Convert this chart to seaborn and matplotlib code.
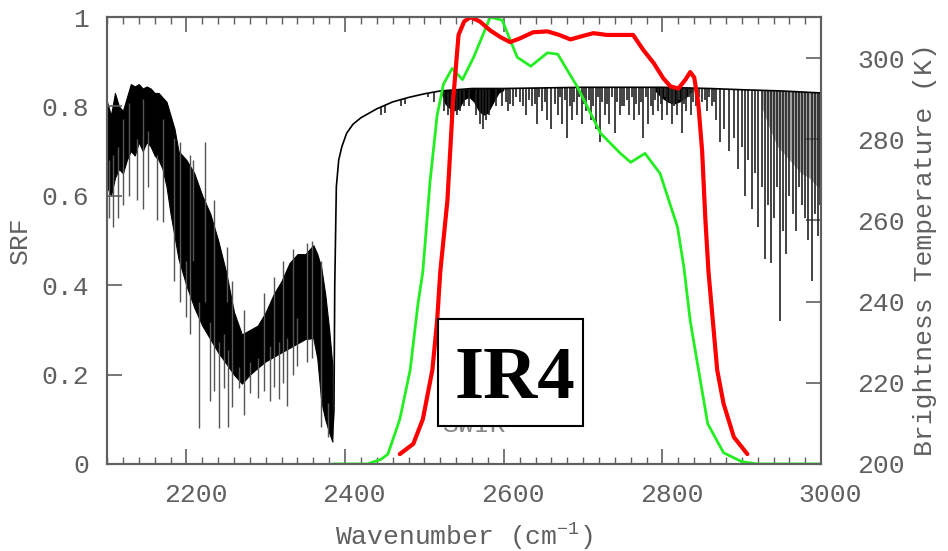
import numpy as np
import pandas as pd
import matplotlib
matplotlib.use('Agg')
import matplotlib.pyplot as plt
import matplotlib.transforms as mtransforms
from matplotlib.patches import Rectangle
from matplotlib.ticker import MultipleLocator
import seaborn as sns

# black spectrum (brightness temperature, K) - dense absorption band 2100-2384
band_wn = [2100, 2105, 2110, 2115, 2120, 2125, 2130, 2135, 2140, 2145, 2150, 2155, 2160, 2165,
           2170, 2175, 2180, 2185, 2190, 2195, 2200, 2210, 2220, 2230, 2240, 2250, 2260, 2270,
           2280, 2290, 2300, 2310, 2320, 2330, 2340, 2350, 2360, 2365, 2370, 2375, 2380, 2384]
band_top = [289.2, 285.9, 291.4, 288.1, 287.0, 290.3, 293.6, 293.0, 293.6, 292.5, 293.0, 292.5, 291.4, 291.4,
            290.3, 289.2, 285.9, 282.6, 277.1, 276.0, 274.9, 271.6, 266.1, 261.7, 255.1, 247.3, 237.4, 231.9,
            233.0, 234.1, 237.4, 241.8, 245.1, 249.5, 251.7, 251.7, 253.9, 251.7, 248.4, 241.8, 233.0, 224.2]
band_bot = [268.3, 266.1, 270.5, 272.7, 271.6, 274.9, 277.1, 276.0, 279.3, 277.1, 279.3, 278.2, 276.0, 274.9,
            272.7, 268.3, 261.7, 256.2, 250.6, 247.3, 244.0, 238.5, 234.1, 230.8, 227.5, 224.8, 222.0, 219.8,
            222.0, 223.7, 225.3, 226.4, 227.5, 228.6, 229.7, 230.8, 231.0, 226.0, 215.4, 211.0, 207.7, 205.5]

# single spikes in the band (wavenumber, upper end, lower end)
spike_wn = [2102, 2108, 2114, 2120, 2128, 2138, 2145, 2152, 2163, 2170, 2185, 2192, 2200, 2205, 2208,
            2216, 2224, 2230, 2235, 2241, 2247, 2251, 2253, 2258, 2266, 2272, 2280, 2290, 2298, 2305,
            2310, 2317, 2322, 2327, 2335, 2340, 2352, 2358, 2370, 2378]
spike_hi = [275.0, 276.0, 278.0, 285.0, 289.0, 280.0, 290.0, 282.0, 276.0, 285.0, 280.4, 279.3, 250.0, 276.0,
            274.9, 240.0, 279.3, 235.0, 265.0, 230.0, 232.0, 253.4, 228.0, 245.0, 224.0, 238.0, 225.0, 226.0,
            242.0, 229.0, 246.0, 230.0, 250.0, 231.0, 253.0, 236.0, 254.5, 255.0, 250.0, 215.0]
spike_lo = [260.6, 258.4, 260.6, 263.9, 266.1, 265.0, 262.8, 268.3, 260.0, 259.5, 245.1, 240.0, 236.3, 232.0,
            250.0, 208.8, 240.0, 215.4, 218.0, 208.8, 218.7, 240.0, 209.1, 214.0, 218.7, 212.0, 217.6, 216.3,
            218.0, 215.4, 219.0, 216.1, 220.0, 214.3, 222.0, 224.2, 225.0, 226.0, 209.0, 206.6]

# continuum from the window edge to 3000
cont_wn = [2384, 2386, 2387, 2389, 2392, 2396, 2402, 2410, 2420, 2440, 2460, 2480, 2500, 2520,
           2560, 2600, 2700, 2800, 2860, 2900, 2950, 3000]
cont_bt = [206.6, 213.2, 244.0, 268.3, 274.9, 278.2, 281.5, 283.7, 285.3, 287.5, 289.2, 290.3, 291.2, 291.9,
           292.5, 292.5, 292.8, 292.8, 292.5, 292.2, 291.9, 291.4]

# absorption lines below the continuum
dip_wn = [2445, 2450, 2470, 2475, 2505, 2512, 2525, 2530, 2533, 2537, 2541, 2545, 2550, 2556, 2565, 2570,
          2574, 2578, 2582, 2590, 2598, 2605, 2612, 2620, 2628, 2635, 2642, 2648, 2655, 2660, 2668,
          2674, 2680, 2686, 2692, 2698, 2704, 2710, 2716, 2721, 2727, 2733, 2740, 2746, 2752, 2758,
          2764, 2770, 2776, 2782, 2788, 2795, 2800, 2806, 2812, 2818, 2824, 2830, 2836, 2842, 2850,
          2856, 2862, 2868, 2873, 2878, 2884, 2890, 2895, 2900, 2904, 2908, 2913, 2917, 2921, 2925,
          2929, 2933, 2937, 2941, 2944, 2948, 2952, 2956, 2960, 2964, 2968, 2972, 2976, 2980, 2984,
          2988, 2992, 2996, 2999]
dip_bt = [285.9, 286.4, 288.1, 288.6, 290.3, 289.2, 287.0, 285.9, 284.8, 287.0, 285.9, 287.0, 288.1, 288.1,
          285.9, 283.7, 282.6, 284.8, 285.9, 288.1, 288.1, 287.0, 288.1, 289.2, 285.9, 288.1, 283.7, 287.0,
          284.8, 282.6, 285.9, 283.7, 280.4, 284.8, 285.9, 283.7, 287.0, 284.8, 282.6, 279.3, 285.9, 283.7,
          281.5, 285.9, 288.1, 285.9, 284.8, 285.9, 280.4, 283.7, 285.9, 287.0, 284.8, 285.9, 283.7, 285.9,
          281.5, 287.0, 285.9, 288.1, 289.2, 287.0, 288.1, 284.8, 279.3, 282.6, 277.1, 280.4, 272.7, 278.2,
          266.1, 274.9, 262.8, 271.6, 258.4, 268.3, 250.6, 263.9, 249.5, 260.6, 268.3, 235.2, 257.3, 251.7,
          266.1, 261.7, 257.3, 268.3, 263.9, 260.6, 255.1, 245.1, 261.7, 256.2, 263.9]

# shallow fine lines between the main ones
fine_wn = [2603, 2608, 2616, 2624, 2632, 2639, 2645, 2652, 2664, 2671, 2677, 2683, 2689, 2695,
           2701, 2707, 2713, 2719, 2724, 2730, 2737, 2743, 2749, 2755, 2761, 2767, 2773, 2779,
           2785, 2791, 2798, 2803, 2809, 2815, 2821, 2827, 2833, 2839, 2846, 2853, 2859, 2865]
fine_bt = [289.2, 288.6, 290.3, 288.1, 289.7, 288.6, 290.3, 289.2, 288.6, 290.3, 289.7, 288.1, 289.2, 290.3,
           288.6, 289.7, 288.1, 290.3, 289.2, 288.6, 290.3, 289.2, 288.1, 289.7, 290.3, 288.6, 289.2, 290.3,
           288.1, 289.7, 288.6, 290.3, 289.2, 288.1, 289.7, 288.6, 290.3, 289.2, 290.3, 289.7, 290.3, 289.2]

# dark clusters of overlapping lines (lower edge)
clus_wn = [2520, 2526, 2532, 2538, 2544, 2550, 2556, 2562, 2568, 2574, 2580, 2586, 2594, 2600]
clus_bt = [291.9, 288.6, 287.5, 287.0, 287.5, 289.7, 290.3, 289.2, 287.0, 285.9, 286.4, 288.6, 291.4, 292.0]
clus2_wn = [2790, 2798, 2806, 2814, 2822, 2830, 2838]
clus2_bt = [292.0, 290.3, 289.2, 288.6, 289.2, 290.3, 292.0]
clus3_wn = [2925, 2935, 2945, 2955, 2965, 2975, 2985, 2995, 3000]
clus3_bt = [288.0, 282.6, 278.2, 276.0, 273.8, 271.6, 270.5, 268.3, 268.3]

# spectral response functions
red_wn = [2469, 2486, 2498, 2510, 2516, 2520, 2529, 2536, 2543, 2550, 2558, 2570, 2583, 2596, 2608,
          2620, 2637, 2655, 2670, 2684, 2700, 2713, 2730, 2747, 2763, 2776, 2789, 2801, 2810, 2820,
          2829, 2835, 2840, 2845, 2850, 2854, 2858, 2869, 2877, 2890, 2907]
red_srf = [0.022, 0.045, 0.10, 0.21, 0.32, 0.43, 0.59, 0.81, 0.96, 0.99, 1.0, 0.99, 0.97, 0.955, 0.944,
           0.952, 0.966, 0.968, 0.96, 0.95, 0.958, 0.964, 0.96, 0.96, 0.96, 0.926, 0.897, 0.863, 0.845, 0.84,
           0.86, 0.877, 0.865, 0.81, 0.70, 0.55, 0.43, 0.21, 0.135, 0.06, 0.022]
green_wn = [2384, 2428, 2445, 2454, 2469, 2482, 2492, 2498, 2507, 2516, 2524, 2535, 2548, 2562, 2583,
            2598, 2617, 2634, 2655, 2668, 2693, 2722, 2747, 2760, 2778, 2797, 2819, 2827, 2835, 2857,
            2877, 2900, 2920, 3000]
green_srf = [0.0, 0.0, 0.01, 0.022, 0.10, 0.21, 0.36, 0.43, 0.63, 0.78, 0.85, 0.885, 0.86, 0.91, 1.0,
             0.993, 0.91, 0.89, 0.92, 0.917, 0.843, 0.74, 0.695, 0.675, 0.695, 0.65, 0.53, 0.44, 0.32, 0.09,
             0.025, 0.005, 0.0, 0.0]

x_ticks = [2200, 2400, 2600, 2800, 3000]
srf_ticks = [0, 0.2, 0.4, 0.6, 0.8, 1.0]
srf_labels = ['0', '0.2', '0.4', '0.6', '0.8', '1']
bt_ticks = [200, 220, 240, 260, 280, 300]

sns.set_style('ticks')
plt.rcParams['font.family'] = ['Liberation Mono', 'DejaVu Sans Mono']
plt.rcParams['mathtext.default'] = 'regular'
grey = '#606060'
fs = 19

fig = plt.figure(figsize=(9.48, 5.51), dpi=100)
ax = fig.add_axes([0.1129, 0.158, 0.7533, 0.811])
ax2 = ax.twinx()

# spectrum on the brightness temperature axis
ax.fill_between(band_wn, band_bot, band_top, color='black', lw=0.8, zorder=2)
ax.vlines(spike_wn, spike_lo, spike_hi, color='#555555', lw=1.0, zorder=2)
ax.fill_between(clus_wn, clus_bt, np.interp(clus_wn, cont_wn, cont_bt), color='black', lw=0, zorder=2)
ax.fill_between(clus2_wn, clus2_bt, np.interp(clus2_wn, cont_wn, cont_bt), color='black', lw=0, zorder=2)
ax.fill_between(clus3_wn, clus3_bt, np.interp(clus3_wn, cont_wn, cont_bt), color='#555555', alpha=0.55,
                lw=0, zorder=2)
ax.vlines(fine_wn, fine_bt, np.interp(fine_wn, cont_wn, cont_bt), color='#333333', lw=1.3, zorder=2)
ax.vlines(dip_wn, dip_bt, np.interp(dip_wn, cont_wn, cont_bt), color='#222222', lw=1.4, alpha=0.85, zorder=2)
sns.lineplot(x=cont_wn, y=cont_bt, ax=ax, color='black', lw=1.2, sort=False, zorder=3)

# SRF curves
sns.lineplot(x=green_wn, y=green_srf, ax=ax2, color='#22ee22', lw=2.0, sort=False)
sns.lineplot(x=red_wn, y=red_srf, ax=ax2, color='#ff0000', lw=3.0, sort=False)

ax.set_xlim(2100, 3000)
ax.set_ylim(200, 310.1)
ax2.set_ylim(0, 1)

ax.set_xticks(x_ticks)
ax.xaxis.set_minor_locator(MultipleLocator(20))
ax.set_yticks(bt_ticks)
ax.yaxis.tick_right()
ax.yaxis.set_label_position('right')
ax2.set_yticks(srf_ticks)
ax2.set_yticklabels(srf_labels)
ax2.yaxis.tick_left()
ax2.yaxis.set_label_position('left')

ax.tick_params(axis='x', which='major', direction='in', top=True, bottom=True, length=11,
               width=1.2, color=grey, labelsize=fs, labelcolor=grey, pad=14)
ax.tick_params(axis='x', which='minor', direction='in', top=True, bottom=True, length=5,
               width=1.0, color=grey)
ax.tick_params(axis='y', direction='in', right=True, left=False, length=11, width=1.2,
               color=grey, labelsize=fs, labelcolor=grey, pad=26)
ax2.tick_params(axis='y', direction='in', left=True, right=False, length=11, width=1.2,
                color=grey, labelsize=fs, labelcolor=grey, pad=13)

off = mtransforms.ScaledTranslation(9 / 100, 0, fig.dpi_scale_trans)
for lab in ax.get_xticklabels():
    lab.set_transform(lab.get_transform() + off)

for a in (ax, ax2):
    for s in a.spines.values():
        s.set_color(grey)
        s.set_linewidth(1.5)

ax.set_xlabel('Wavenumber (cm$^{-1}$)', fontsize=fs, color=grey, labelpad=10)
ax.set_ylabel('Brightness Temperature (K)', fontsize=fs, color=grey)
ax.yaxis.set_label_coords(1.129, 0.479)
ax2.set_ylabel('SRF', fontsize=fs, color=grey)
ax2.yaxis.set_label_coords(-0.105, 0.5)

# channel label: faint SWIR tag partly covered by the framed IR4 tag
ax2.text(2564, 0.072, 'SWIR', fontsize=fs, color='#888888', ha='center', va='baseline', zorder=4)
ax2.add_patch(Rectangle((0.4636, 0.085), 0.2031, 0.2394, transform=ax2.transAxes,
                        fc='white', ec='black', lw=1.5, zorder=5))
ax2.text(0.5707, 0.1477, 'IR4', transform=ax2.transAxes, fontsize=54, fontweight='bold',
         family='Liberation Serif', color='black', ha='center', va='baseline', zorder=6)

fig.savefig('out.png', dpi=100)
